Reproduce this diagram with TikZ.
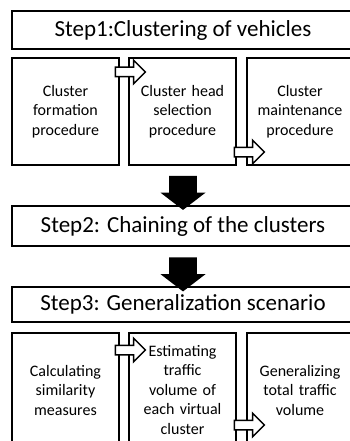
\documentclass[tikz,border=0pt]{standalone}
\usepackage{fontspec}
\setmainfont{Carlito}
\usetikzlibrary{shapes.arrows}
\begin{document}
\begin{tikzpicture}[x=1pt,y=-1pt,
  stepbox/.style={draw,line width=1.6pt,minimum width=342pt,minimum height=38pt,inner sep=0pt,font=\fontsize{23}{27}\selectfont},
  taskbox/.style={draw,line width=2pt,minimum width=107pt,text width=104pt,align=center,inner sep=0pt,font=\fontsize{16}{19.5}\selectfont},
  sidearrow/.style={single arrow,draw,fill=white,line width=1.5pt,inner sep=4pt,minimum width=15pt,minimum height=30pt},
  downarrow/.style={single arrow,fill=black,inner sep=11.5pt,minimum width=45pt,minimum height=31pt,single arrow tip angle=105,shape border rotate=270}]
\useasboundingbox (0,0) rectangle (350,441);
\clip (0,0) rectangle (350,441);
% step 1 and its three procedures
\node[stepbox] (step1) at (183,30) {Step1:Clustering of vehicles};
\node[taskbox,minimum height=107pt] (form) at (65.5,111.5) {Cluster\\formation\\procedure};
\node[taskbox,minimum height=107pt] (head) at (182.5,111.5) {Cluster head\\selection\\procedure};
\node[taskbox,minimum height=107pt] (maint) at (300,111.5) {Cluster\\maintenance\\procedure};
\node[sidearrow] (formhead) at (128,72) {};
\node[sidearrow] (headmaint) at (247,152) {};
% step 2
\node[downarrow] (down1) at (183,187.5) {};
\node[stepbox,minimum height=40pt] (step2) at (183,226) {Step2: Chaining of the clusters};
% step 3
\node[downarrow] (down2) at (183,269) {};
\node[stepbox,minimum height=35pt] (step3) at (183,304.5) {Step3: Generalization scenario};
\node[taskbox,minimum height=114pt] (simil) at (65.5,390) {Calculating\\similarity\\measures};
\node[taskbox,minimum height=114pt] (estim) at (182.5,390) {Estimating\\traffic\\volume of\\each virtual\\cluster};
\node[taskbox,minimum height=114pt] (gener) at (300,390) {Generalizing\\total traffic\\volume};
\node[sidearrow] (similestim) at (128,350) {};
\node[sidearrow] (estimgener) at (247,425) {};
\end{tikzpicture}
\end{document}
